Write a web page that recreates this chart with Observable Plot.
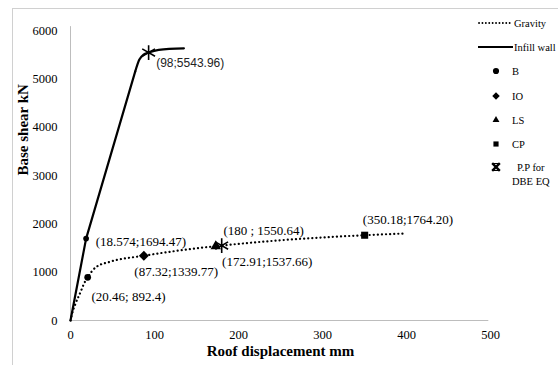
<!DOCTYPE html>
<html>
<head>
<meta charset="utf-8">
<script src="https://cdn.jsdelivr.net/npm/d3@7"></script>
<script src="https://cdn.jsdelivr.net/npm/@observablehq/plot@0.6"></script>
<style>
  html, body { margin: 0; padding: 0; background: #fff; }
  #wrap { position: relative; width: 558px; height: 365px; overflow: hidden; background: #fff; }
  #frame { position: absolute; left: 12px; top: 8px; width: 600px; height: 400px;
           border-left: 1px solid #d0d0d0; border-top: 1px solid #d0d0d0; pointer-events: none; }
  #chart { position: absolute; left: 0; top: 0; }
  #legend { position: absolute; left: 0; top: 0; }
</style>
</head>
<body>
<div id="wrap"><div id="chart"></div><svg id="legend" width="558" height="365"></svg><div id="frame"></div></div>
<script>
// ---- data ----
const xTicks = [0, 100, 200, 300, 400, 500];
const yTicks = [0, 1000, 2000, 3000, 4000, 5000, 6000];

// infill wall: straight part then rounded knee
const infillX = [0, 18.574, 77, 82, 87, 93, 105, 135];
const infillY = [0, 1694.47, 5150, 5400, 5500, 5544, 5600, 5630];
const infillKnee = 2; // index where the curve starts bending

const gravityX = [0, 2, 6, 12, 16, 20.46, 30, 48, 87.32, 130, 172.91, 180, 250, 350.18, 398];
const gravityY = [0, 150, 350, 590, 760, 892.4, 1100, 1220, 1339.77, 1450, 1537.66, 1550.64, 1660, 1764.2, 1800];

// performance points
const bX = [18.574, 20.46], bY = [1694.47, 892.4], bR = [4, 5.5];
const ioX = [87.32], ioY = [1339.77];
const lsX = [172.91], lsY = [1537.66];
const cpX = [350.18], cpY = [1764.2];
const ppX = [180, 93], ppY = [1550.64, 5544];

// point labels
const labelText = ["(98;5543.96)", "(18.574;1694.47)", "(20.46; 892.4)", "(87.32;1339.77)",
                   "(180 ; 1550.64)", "(172.91;1537.66)", "(350.18;1764.20)"];
const labelX = [102, 30, 25, 76, 182, 180.5, 348];
const labelY = [5320, 1620, 500, 1000, 1860, 1220, 2090];

// legend entries
const legendNames = ["Gravity", "Infill wall", "B", "IO", "LS", "CP", "P.P for", "DBE EQ"];

// ---- build ----
const infill = infillX.map((x, i) => ({x, y: infillY[i]}));
const infillLow = infill.slice(0, infillKnee + 1);
const infillHigh = infill.slice(infillKnee);
const gravity = gravityX.map((x, i) => ({x, y: gravityY[i]}));
const pts = (xs, ys) => xs.map((x, i) => ({x, y: ys[i], i}));
const labels = labelText.map((t, i) => ({t, x: labelX[i], y: labelY[i], sans: i === 0}));

const serif = "'Liberation Serif', 'Times New Roman', serif";
const fmt = d3.format("d");

const plot = Plot.plot({
  width: 558, height: 365,
  marginLeft: 70, marginRight: 68, marginTop: 30, marginBottom: 45,
  style: {fontFamily: serif, background: "transparent"},
  x: {domain: [0, 500]},
  y: {domain: [0, 6000]},
  marks: [
    Plot.ruleX([0], {y1: 0, y2: 6080, stroke: "#bdbdbd", strokeWidth: 1}),
    Plot.ruleY([0], {x1: 0, x2: 498, stroke: "#bdbdbd", strokeWidth: 1}),
    Plot.axisX({ticks: xTicks, tickSize: 0, tickPadding: 10, fontSize: 12.5, label: null, tickFormat: fmt}),
    Plot.axisY({ticks: yTicks, tickSize: 0, tickPadding: 13, fontSize: 12.5, label: null, tickFormat: fmt}),
    Plot.line(gravity, {x: "x", y: "y", curve: "monotone-x", stroke: "#000", strokeWidth: 2.2,
      strokeDasharray: "0.1,4", strokeLinecap: "round"}),
    Plot.line(infillLow, {x: "x", y: "y", curve: "linear", stroke: "#000", strokeWidth: 2.2, strokeLinejoin: "round"}),
    Plot.line(infillHigh, {x: "x", y: "y", curve: "monotone-x", stroke: "#000", strokeWidth: 2.2, strokeLinecap: "round"}),
    Plot.dot(pts(bX, bY), {x: "x", y: "y", r: d => bR[d.i], fill: "#000", symbol: "circle"}),
    Plot.dot(pts(ioX, ioY), {x: "x", y: "y", r: 4.5, fill: "#000", symbol: "diamond2"}),
    Plot.dot(pts(lsX, lsY), {x: "x", y: "y", r: 5, fill: "#000", symbol: "triangle2"}),
    Plot.dot(pts(cpX, cpY), {x: "x", y: "y", r: 4.5, fill: "#000", symbol: "square2"}),
    Plot.dot(pts(ppX, ppY), {x: "x", y: "y", r: 7, stroke: "#000", strokeWidth: 1.6, symbol: "asterisk"}),
    Plot.text(labels.filter(d => !d.sans), {x: "x", y: "y", text: "t", textAnchor: "start",
      fontSize: 13, fill: "#000", fontFamily: serif}),
    Plot.text(labels.filter(d => d.sans), {x: "x", y: "y", text: "t", textAnchor: "start",
      fontSize: 12, fill: "#222", fontFamily: "'Liberation Sans', Arial, sans-serif"}),
    Plot.text(["Roof displacement mm"], {frameAnchor: "bottom", dy: 35, fontSize: 15, fontWeight: "bold", fill: "#000"}),
    Plot.text(["Base shear kN"], {frameAnchor: "left", dx: -47, rotate: -90, fontSize: 15, fontWeight: "bold", fill: "#000"})
  ]
});
document.getElementById("chart").appendChild(plot);

// ---- legend ----
const lg = d3.select("#legend").style("font-family", serif).style("font-size", "10.5px");
const rowY = [23, 47, 71, 96, 120, 144, 167, 181];
lg.append("line").attr("x1", 479).attr("x2", 512).attr("y1", rowY[0]).attr("y2", rowY[0])
  .attr("stroke", "#000").attr("stroke-width", 1.8).attr("stroke-dasharray", "0.1,3.3").attr("stroke-linecap", "round");
lg.append("line").attr("x1", 478).attr("x2", 513).attr("y1", rowY[1]).attr("y2", rowY[1])
  .attr("stroke", "#000").attr("stroke-width", 2.2);
const syms = [d3.symbolCircle, d3.symbolDiamond2, d3.symbolTriangle2, d3.symbolSquare2, d3.symbolTimes];
const sizes = [30, 36, 34, 34, 40];
syms.forEach((s, k) => {
  const g = lg.append("path").attr("d", d3.symbol(s, sizes[k])()).attr("transform", `translate(496,${rowY[k + 2]})`);
  if (s === d3.symbolTimes) g.attr("fill", "none").attr("stroke", "#000").attr("stroke-width", 2.4);
  else g.attr("fill", "#000");
});
lg.append("path").attr("d", "M492,163.5h8M492,170.5h8").attr("stroke", "#000").attr("stroke-width", 1.2);
const lx = [514, 514, 512, 512, 512, 512, 517, 512];
legendNames.forEach((n, k) => {
  lg.append("text").attr("x", lx[k]).attr("y", rowY[k]).attr("dy", "0.35em").attr("fill", "#000").text(n);
});
</script>
</body>
</html>
